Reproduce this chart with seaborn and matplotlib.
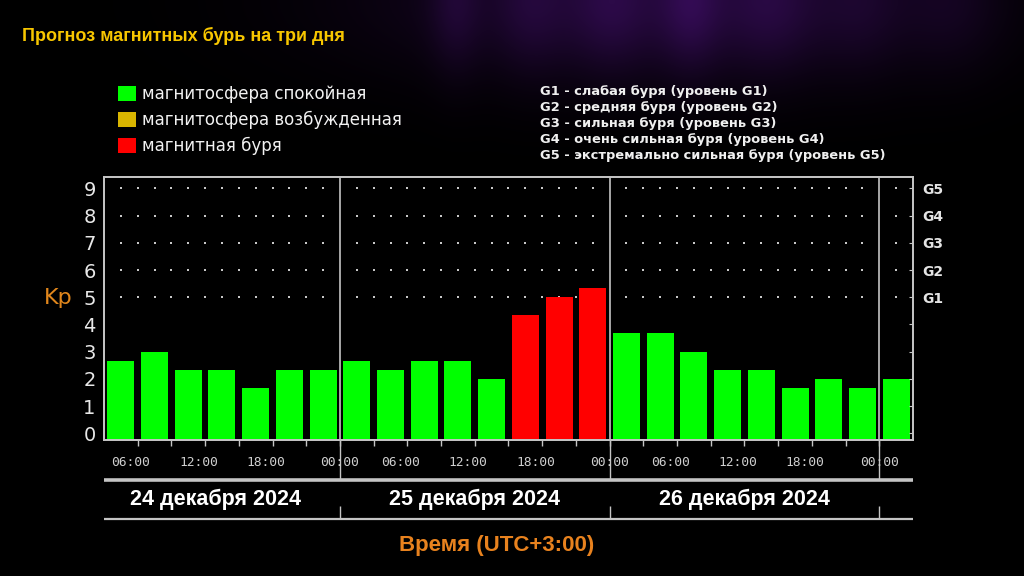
import numpy as np
import pandas as pd
import matplotlib.pyplot as plt
import seaborn as sns
from matplotlib.patches import Patch

# Kp forecast, 3-hour slots starting 24 Dec 03:00 (UTC+3)
kp_values = [2.67, 3.0, 2.33, 2.33, 1.67, 2.33, 2.33,
             2.67, 2.33, 2.67, 2.67, 2.0, 4.33, 5.0, 5.33,
             3.67, 3.67, 3.0, 2.33, 2.33, 1.67, 2.0, 1.67,
             2.0]
day_labels = ["24 декабря 2024", "25 декабря 2024", "26 декабря 2024"]
bars_per_day = [7, 8, 8]
time_labels = ["06:00", "12:00", "18:00", "00:00"] * 3
state_names = ["магнитосфера спокойная", "магнитосфера возбужденная", "магнитная буря"]
state_colors = ["#00ff00", "#d9b500", "#ff0000"]
g_levels = [5, 6, 7, 8, 9]
g_labels = ["G1", "G2", "G3", "G4", "G5"]
g_descriptions = ["G1 - слабая буря (уровень G1)",
                  "G2 - средняя буря (уровень G2)",
                  "G3 - сильная буря (уровень G3)",
                  "G4 - очень сильная буря (уровень G4)",
                  "G5 - экстремально сильная буря (уровень G5)"]


def kp_state(v):
    if v > 4.0:
        return state_names[2]
    if v >= 4.0:
        return state_names[1]
    return state_names[0]


df = pd.DataFrame({"slot": range(len(kp_values)), "kp": kp_values})
df["state"] = df["kp"].apply(kp_state)

n = len(kp_values)
seps = list(np.cumsum(bars_per_day) - 0.5)
gray = "#c4c4c4"
y_bottom = -0.25

fig = plt.figure(figsize=(10.24, 5.76), dpi=100, facecolor="black")

# dark background with a faint purple aurora at the top
bg = fig.add_axes([0, 0, 1, 1], zorder=-10)
yy, xx = np.mgrid[0:576, 0:1024]
glow = np.exp(-(yy / 80.0) ** 2) * 0.5 * np.exp(-((xx - 660) / 280.0) ** 2)
for cx, w, a in [(455, 25, 0.3), (530, 35, 0.25), (610, 40, 0.3), (690, 30, 0.4),
                 (770, 45, 0.3), (860, 40, 0.2), (950, 50, 0.2)]:
    glow += a * np.exp(-((xx - cx) / w) ** 2) * np.exp(-(yy / 70.0) ** 2)
glow = np.clip(glow, 0, 1)
img = np.dstack([0.22 * glow, 0.05 * glow, 0.36 * glow])
bg.imshow(img, aspect="auto", extent=(0, 1, 0, 1))
bg.set_xlim(0, 1)
bg.set_ylim(0, 1)
bg.axis("off")

ax = fig.add_axes([104 / 1024, 1 - 440 / 576, 809 / 1024, 263 / 576])
ax.set_facecolor("black")

# dotted grid at storm levels
grid_x = [x for x in np.arange(0, n - 0.99, 0.5) if x not in seps]
gx, gy = np.meshgrid(grid_x, g_levels)
ax.scatter(gx.ravel(), gy.ravel(), s=2, marker="s", color="#c8c8c8",
           linewidths=0, zorder=0)

sns.barplot(data=df, x="slot", y="kp", hue="state", hue_order=state_names,
            palette=state_colors, dodge=False, width=0.8, saturation=1,
            linewidth=0, legend=False, ax=ax, zorder=2)

# bars start from the bottom frame line, as in the original widget
for p in ax.patches:
    top = p.get_y() + p.get_height()
    p.set_y(y_bottom)
    p.set_height(top - y_bottom)

ax.set_xlim(-0.5, n - 0.5)
ax.set_ylim(y_bottom, 9.42)
ax.set_xlabel("")
for s in seps:
    ax.axvline(s, color=gray, lw=1.2, zorder=3)

ax.set_xticks(np.arange(0.5, n - 0.5, 1))
ax.set_xticklabels([])
ax.tick_params(axis="x", direction="out", length=4, width=1, color=gray)
ax.set_yticks(range(10))
ax.set_yticklabels([str(i) for i in range(10)])
ax.tick_params(axis="y", length=0, pad=6, labelsize=14, labelcolor="#e8e8e8")
ax.set_ylabel("Kp", rotation=0, color="#e0861c", fontsize=16, ha="center", va="center")
ax.yaxis.set_label_coords(-0.056, 0.54)
for sp in ax.spines.values():
    sp.set_color(gray)
    sp.set_linewidth(1.3)

axr = ax.twinx()
axr.set_ylim(ax.get_ylim())
axr.set_yticks(range(10))
axr.set_yticklabels(["G%d" % (i - 4) if i in g_levels else "" for i in range(10)],
                    fontweight="bold")
axr.tick_params(axis="y", direction="in", length=3, color=gray, pad=7,
                labelsize=10, labelcolor="#e4e4e4")
for sp in axr.spines.values():
    sp.set_color(gray)
    sp.set_linewidth(1.3)

# time labels, date row and separators below the chart
axb = fig.add_axes([104 / 1024, 1 - 522 / 576, 809 / 1024, 82 / 576])
axb.set_xlim(ax.get_xlim())
axb.set_ylim(0, 1)
axb.axis("off")
tick_pos = np.arange(0.5, n - 0.5, 2)
for p, lab in zip(tick_pos, time_labels):
    off = 0 if lab == "00:00" else -0.2
    axb.text(p + off, 0.72, lab, ha="center", va="center", color="#d0d0d0",
             fontsize=9.3, family="DejaVu Sans Mono")
axb.axhline(0.512, color=gray, lw=2.6)
axb.axhline(0.037, color=gray, lw=1.6)
axb.vlines(seps, 0.512, 1.0, color=gray, lw=1)
axb.vlines(seps, 0.037, 0.2, color=gray, lw=1)
starts = np.concatenate([[0], np.cumsum(bars_per_day)[:-1]])
for st, cnt, lab in zip(starts, bars_per_day, day_labels):
    axb.text(st + (cnt - 1) / 2 - (0.2 if st == 0 else 0), 0.28, lab,
             ha="center", va="center", color="white", fontsize=15.5,
             fontweight="bold", family="Liberation Sans")

fig.text(22 / 1024, 1 - 36 / 576, "Прогноз магнитных бурь на три дня",
         color="#f7c600", fontsize=13, fontweight="bold", family="Liberation Sans",
         va="center")

handles = [Patch(facecolor=c, edgecolor="none") for c in state_colors]
fig.legend(handles, state_names, loc="upper left",
           bbox_to_anchor=(118 / 1024, 1 - 85 / 576), frameon=False,
           fontsize=12, labelcolor="#f2f2f2", handlelength=1.05,
           handleheight=1.05, handletextpad=0.42, labelspacing=0.47,
           borderpad=0, borderaxespad=0)

for i, line in enumerate(g_descriptions):
    fig.text(540 / 1024, 1 - (91 + 16 * i) / 576, line, color="#f0f0f0",
             fontsize=9.4, fontweight="bold", va="center")

fig.text(497 / 1024, 1 - 545 / 576, "Время (UTC+3:00)", color="#e8821e",
         fontsize=16, fontweight="bold", family="Liberation Sans",
         ha="center", va="center")

fig.savefig("out.png", dpi=100, facecolor="black")
